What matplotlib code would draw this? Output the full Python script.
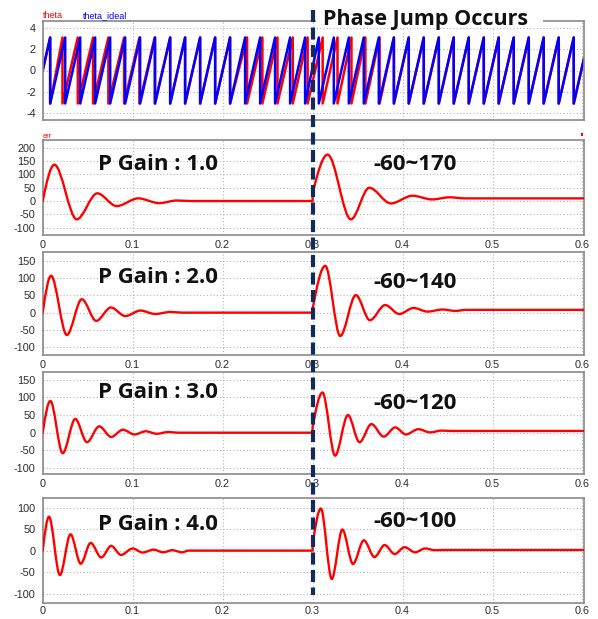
import numpy as np
import matplotlib

matplotlib.use('Agg')
import matplotlib.pyplot as plt
from matplotlib import font_manager
from matplotlib.path import Path
from matplotlib.patches import PathPatch, Rectangle
from matplotlib.lines import Line2D
from matplotlib.transforms import blended_transform_factory

W, H = 598, 619
T_END = 0.6017
JUMP_T = 0.3

# top panel: times where the sawtooth wraps from +pi to -pi
theta_max = 3.14
theta_ideal_wraps = [0.0083, 0.0250, 0.0417, 0.0583, 0.0750, 0.0917, 0.1083, 0.1250,
                     0.1417, 0.1583, 0.1750, 0.1917, 0.2083, 0.2250, 0.2417, 0.2583,
                     0.2750, 0.2917, 0.3069, 0.3236, 0.3403, 0.3569, 0.3736, 0.3903,
                     0.4069, 0.4236, 0.4403, 0.4569, 0.4736, 0.4903, 0.5069, 0.5236,
                     0.5403, 0.5569, 0.5736, 0.5903]
theta_wraps = [0.0083, 0.0220, 0.0390, 0.0560, 0.0730, 0.0905, 0.1075, 0.1245,
               0.1417, 0.1583, 0.1750, 0.1917, 0.2083, 0.2272, 0.2442, 0.2610,
               0.2780, 0.2945, 0.3112, 0.3277, 0.3432, 0.3587, 0.3745, 0.3905,
               0.4069, 0.4236, 0.4403, 0.4569, 0.4736, 0.4903, 0.5069, 0.5236,
               0.5403, 0.5569, 0.5736, 0.5903]
theta_end = 1.15

# err panels: extremes of the startup response and of the response after the jump
gains = ['1.0', '2.0', '3.0', '4.0']
ranges = ['-60~170', '-60~140', '-60~120', '-60~100']

p1_start_t = [0, 0.0130, 0.0378, 0.0607, 0.0822, 0.1063, 0.1296, 0.1490, 0.1650]
p1_start_v = [0, 137, -69, 29, -19, 10, -8, 2, 0]
p1_jump_t = [0.3, 0.3167, 0.3426, 0.3630, 0.3870, 0.4110, 0.4330, 0.4520, 0.4700]
p1_jump_v = [29, 175, -69, 50, -9, 20, 6, 14, 10]

p2_start_t = [0, 0.0093, 0.0268, 0.0435, 0.0595, 0.0758, 0.0918, 0.1086, 0.1250, 0.1420, 0.1550]
p2_start_v = [0, 107, -65, 39, -24, 15, -10, 6, -4, 2, 0]
p2_jump_t = [0.3, 0.3141, 0.3307, 0.3481, 0.3637, 0.3807, 0.3963, 0.4122, 0.4278, 0.4444, 0.4590, 0.4700]
p2_jump_v = [10, 136, -68, 51, -22, 22, -4, 13.5, 3, 9, 5, 8]

p3_start_t = [0, 0.0085, 0.0222, 0.0362, 0.0492, 0.0628, 0.0762, 0.0891, 0.1020,
              0.1146, 0.1268, 0.1397, 0.1500]
p3_start_v = [0, 90, -58, 39, -27, 18, -12, 8.5, -5, 4, -3, 2, 0]
p3_jump_t = [0.3, 0.3110, 0.3250, 0.3393, 0.3522, 0.3654, 0.3790, 0.3919, 0.4037,
             0.4176, 0.4305, 0.4434, 0.4550]
p3_jump_v = [15, 114, -65, 50, -27, 24.5, -11, 15, -5, 10, 1, 6, 5]

p4_start_t = [0, 0.0070, 0.0191, 0.0309, 0.0423, 0.0533, 0.0651, 0.0761, 0.0871,
              0.1000, 0.1110, 0.1232, 0.1340, 0.1440, 0.1550, 0.1620]
p4_start_v = [0, 79, -57, 38, -30.5, 18, -16, 11, -10, 5, -4.5, 2.3, -4, 1, -4, 0]
p4_jump_t = [0.3, 0.3092, 0.3213, 0.3331, 0.3449, 0.3570, 0.3688, 0.3801, 0.3912,
             0.4022, 0.4140, 0.4250, 0.4360, 0.4450]
p4_jump_v = [13, 98, -66, 49, -31, 24, -15, 13, -8, 8, -4, 5, 1, 1.5]

panels = [
    (p1_start_t, p1_start_v, p1_jump_t, p1_jump_v),
    (p2_start_t, p2_start_v, p2_jump_t, p2_jump_v),
    (p3_start_t, p3_start_v, p3_jump_t, p3_jump_v),
    (p4_start_t, p4_start_v, p4_jump_t, p4_jump_v),
]
err_yticks = [[-100, -50, 0, 50, 100, 150, 200],
              [-100, -50, 0, 50, 100, 150],
              [-100, -50, 0, 50, 100, 150],
              [-100, -50, 0, 50, 100]]
err_ylims = [(-128, 230), (-123, 176), (-117, 172), (-122, 122.5)]

# layout in pixels (top, bottom) of each axes
LEFT, RIGHT = 42.7, 584
boxes = [(21, 120), (140, 235), (252, 355), (372, 474), (498, 603)]
gain_base = [170, 283, 398, 530]
range_base = [170, 288, 409, 527]

RED = '#ff0000'
BLUE = '#0000ff'
NAVY = '#14295c'
TICK_FONT = 'Liberation Sans'


def pick_bold_family(candidates):
    # first installed family that really has a bold face
    for fam in candidates:
        for f in font_manager.fontManager.ttflist:
            if f.name == fam and f.weight in (600, 700, 'bold', 'semibold', 'demibold'):
                return fam
    return 'DejaVu Sans'


BIG_FONT = pick_bold_family(['Noto Sans', 'Open Sans', 'Roboto', 'Lato', 'Noto Sans CJK KR'])


def fxy(px, py):
    return px / W, 1 - py / H


def make_axes(fig, top, bottom):
    ax = fig.add_axes([LEFT / W, 1 - bottom / H, (RIGHT - LEFT) / W, (bottom - top) / H])
    for s in ax.spines.values():
        s.set_color('#8a8a8a')
        s.set_linewidth(1.2)
    ax.set_xlim(0, T_END)
    ax.set_xticks([0, 0.1, 0.2, 0.3, 0.4, 0.5, 0.6])
    ax.grid(True, linestyle=(0, (1, 2)), color='#b5b5b5', linewidth=0.8)
    ax.tick_params(length=0, labelsize=7.8, labelcolor='#2b2b2b', pad=5)
    ax.tick_params(axis='x', pad=3.5)
    return ax


def sawtooth(wraps, v_end):
    ts, vs = [0.0], [0.0]
    for w in wraps:
        ts += [w, w]
        vs += [theta_max, -theta_max]
    ts.append(T_END)
    vs.append(v_end)
    return ts, vs


def smooth_path(ts, vs, steep):
    # cubic segments between the read extremes, flat tangents at the extremes
    n = len(ts)
    m = [0.0] * n
    for i in steep:
        m[i] = np.pi / 2 * (vs[i + 1] - vs[i]) / (ts[i + 1] - ts[i])
    verts = [(ts[0], vs[0])]
    codes = [Path.MOVETO]
    for i in range(n - 1):
        h = ts[i + 1] - ts[i]
        if h <= 0:
            verts.append((ts[i + 1], vs[i + 1]))
            codes.append(Path.LINETO)
            continue
        verts += [(ts[i] + h / 3, vs[i] + m[i] * h / 3),
                  (ts[i + 1] - h / 3, vs[i + 1] - m[i + 1] * h / 3),
                  (ts[i + 1], vs[i + 1])]
        codes += [Path.CURVE4] * 3
    return Path(verts, codes)


fig = plt.figure(figsize=(W / 100, H / 100), dpi=100)

# top panel
ax0 = make_axes(fig, *boxes[0])
ax0.set_ylim(-4.71, 4.71)
ax0.set_yticks([-4, -2, 0, 2, 4])
ax0.set_yticklabels(['-4', '-2', '0', '2', '4'], family=TICK_FONT)
ax0.tick_params(axis='x', labelbottom=False)
tr, vr = sawtooth(theta_wraps, theta_end)
tb, vb = sawtooth(theta_ideal_wraps, theta_end)
ax0.plot(tr, vr, color=RED, lw=1.8)
ax0.plot(tb, vb, color=BLUE, lw=1.8)

fig.text(*fxy(43, 18), 'theta', color=RED, fontsize=6.5, family=TICK_FONT)
fig.text(*fxy(83, 18), 'theta_ideal', color=BLUE, fontsize=6.5, family=TICK_FONT)

# err panels
for k, (st, sv, jt, jv) in enumerate(panels):
    ax = make_axes(fig, *boxes[k + 1])
    ax.set_ylim(*err_ylims[k])
    ax.set_yticks(err_yticks[k])
    ax.set_yticklabels([str(v) for v in err_yticks[k]], family=TICK_FONT)
    ax.set_xticklabels(['0', '0.1', '0.2', '0.3', '0.4', '0.5', '0.6'], family=TICK_FONT)
    if k == len(panels) - 1:
        ax.tick_params(axis='x', pad=2)
    ts = list(st) + [JUMP_T] + list(jt) + [T_END]
    vs = list(sv) + [0] + list(jv) + [jv[-1]]
    jump_idx = len(st) + 1
    path = smooth_path(ts, vs, steep=[0, jump_idx])
    ax.add_patch(PathPatch(path, fill=False, edgecolor=RED, lw=1.7,
                           capstyle='round', joinstyle='round', zorder=3))
    fig.text(*fxy(98, gain_base[k]), 'P Gain : ' + gains[k], fontsize=16,
             fontweight='bold', family=BIG_FONT, color='#111111')
    fig.text(*fxy(373, range_base[k]), ranges[k], fontsize=16,
             fontweight='bold', family=BIG_FONT, color='#111111')

fig.text(*fxy(43, 138), 'err', color=RED, fontsize=5.5, family=TICK_FONT)
# small red marker of the scope window, top right of the err panel
fig.add_artist(Rectangle(fxy(580.5, 135.5), 2.5 / W, 2.5 / H, transform=fig.transFigure,
                         facecolor=RED, edgecolor='none'))

# phase jump marker
x0, y0 = fxy(316, 28)
fig.add_artist(Rectangle((x0, y0), (543 - 316) / W, 25 / H, transform=fig.transFigure,
                         facecolor='white', edgecolor='none', zorder=5))
fig.text(*fxy(323, 25), 'Phase Jump Occurs', fontsize=15.5, fontweight='bold',
         family=BIG_FONT, color='#111111', zorder=6)
trans = blended_transform_factory(ax0.transData, fig.transFigure)
fig.add_artist(Line2D([JUMP_T, JUMP_T], [1 - 10 / H, 1 - 595 / H], transform=trans,
                      color=NAVY, lw=3, linestyle=(0, (2.9, 1.3)), zorder=10))

fig.savefig('out.png', dpi=100)
